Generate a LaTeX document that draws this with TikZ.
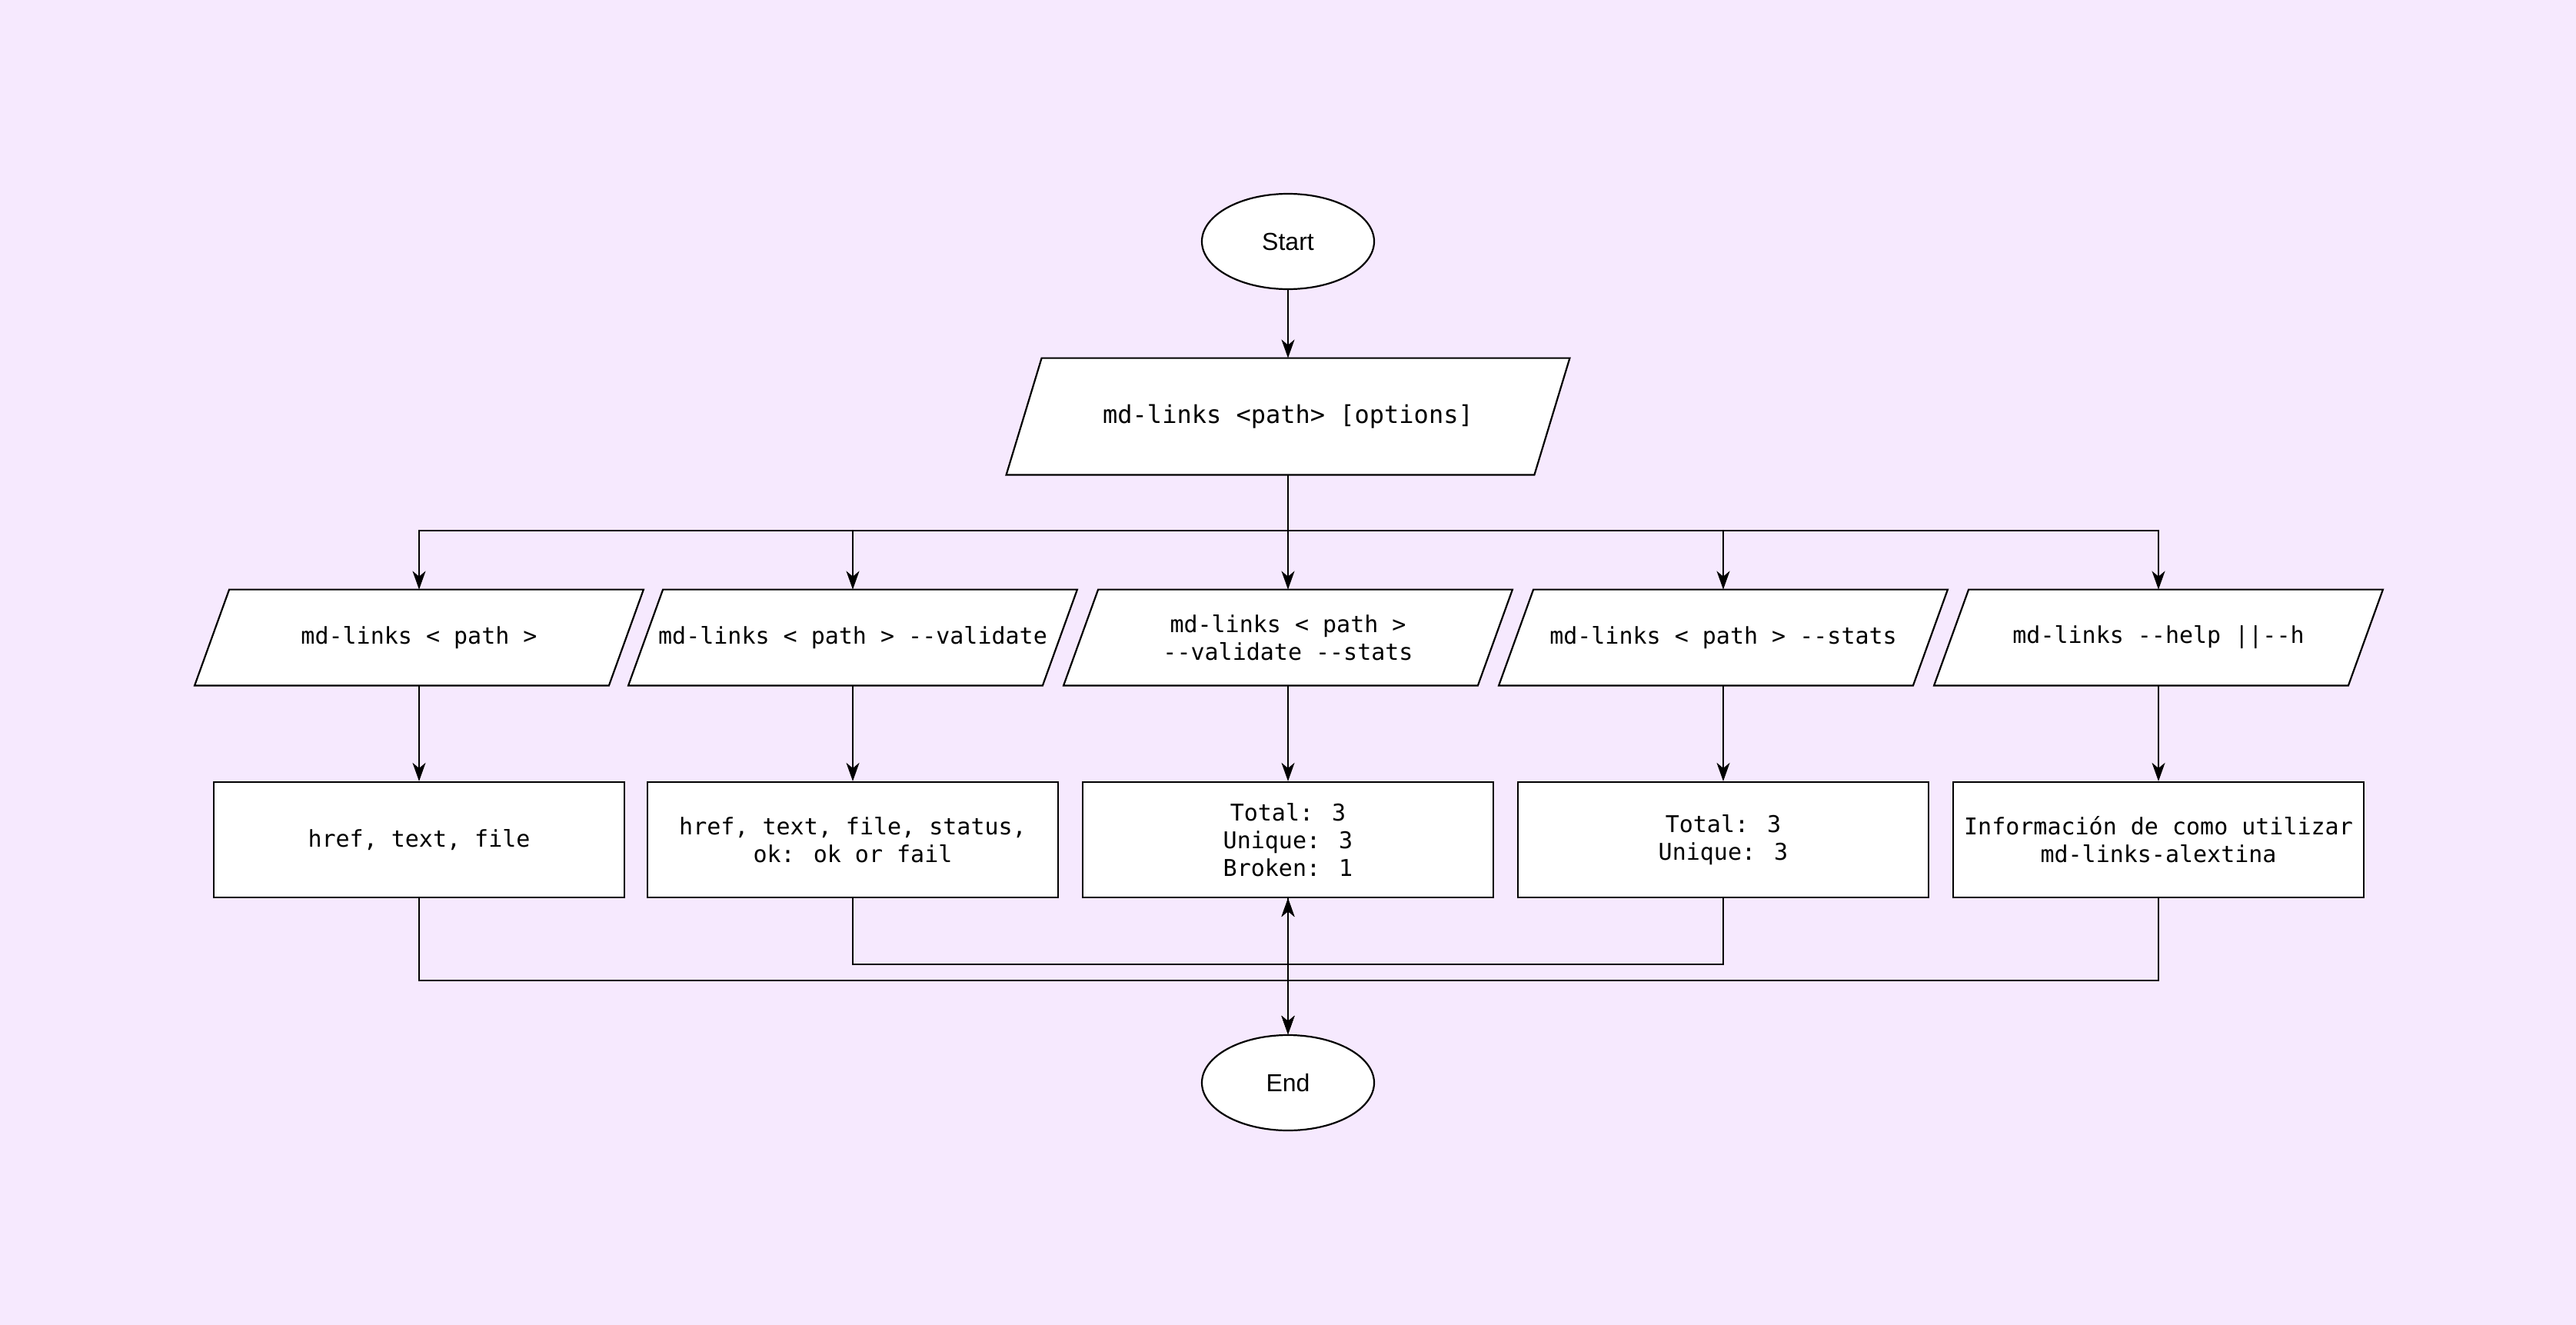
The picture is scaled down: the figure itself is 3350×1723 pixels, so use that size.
\documentclass[tikz,border=0pt]{standalone}
\usepackage{fontspec}
\setmainfont{Liberation Sans}
\newfontfamily\monof{DejaVu Sans Mono}
\usetikzlibrary{arrows.meta,backgrounds,shapes.geometric}
\definecolor{bgcol}{RGB}{246,233,254}
\tikzset{
  shapeline/.style={draw=black,line width=1.1pt,fill=white},
  term/.style={ellipse,shapeline,minimum width=112pt,minimum height=62pt,inner sep=0pt,font=\fontsize{16}{19}\selectfont},
  paranode/.style={rectangle,draw=none,minimum width=269pt,minimum height=62pt,inner sep=0pt,align=center,font=\monof\fontsize{15}{18}\selectfont},
  resbox/.style={rectangle,shapeline,minimum width=267pt,minimum height=75pt,inner sep=0pt,align=center,font=\monof\fontsize{15}{18}\selectfont},
  arr/.style={draw=black,line width=0.9pt,-{Stealth[length=12pt,width=8.5pt,inset=3.5pt]}},
}
\newcommand\paraoutline[2]{% node name, half slant
  \filldraw[shapeline] ([xshift=#2]#1.north west) -- ([xshift=#2]#1.north east) -- ([xshift=-#2]#1.south east) -- ([xshift=-#2]#1.south west) -- cycle;}
\begin{document}
\begin{tikzpicture}[x=0.5pt,y=-0.5pt]
\useasboundingbox (0,0) rectangle (3350,1723);
% nodes
\node[term] (start) at (1675,314) {Start};
\node[paranode,minimum width=343pt,minimum height=75.5pt,font=\monof\fontsize{16}{19}\selectfont] (in) at (1675,541.5) {md-links <path> [options]};
\node[paranode] (p1) at (545,829) {md-links < path >};
\node[paranode] (p2) at (1109,829) {md-links < path > -{}-validate};
\node[paranode] (p3) at (1675,829) {md-links < path >\\-{}-validate -{}-stats};
\node[paranode] (p4) at (2241,829) {md-links < path > -{}-stats};
\node[paranode] (p5) at (2807,829) {md-links -{}-help ||-{}-h};
\node[resbox] (r1) at (545,1092) {href, text, file};
\node[resbox] (r2) at (1109,1092) {href, text, file, status,\\ok: ok or fail};
\node[resbox] (r3) at (1675,1092) {Total: 3\\Unique: 3\\Broken: 1};
\node[resbox] (r4) at (2241,1092) {Total: 3\\Unique: 3};
\node[resbox] (r5) at (2807,1092) {Información de como utilizar\\md-links-alextina};
\node[term] (end) at (1675,1408) {End};
\coordinate (bus) at (1675,690);
\coordinate (busA) at (1675,1254);
\coordinate (busB) at (1675,1275);
% background and parallelograms
\begin{scope}[on background layer]
  \fill[bgcol] (0,0) rectangle (3350,1723);
  \paraoutline{in}{11.5pt}
  \foreach \n in {p1,p2,p3,p4,p5} {\paraoutline{\n}{11.25pt}}
\end{scope}
% connectors
\draw[arr] (start) -- (in);
\draw[arr] (in.south) -- (bus) -| (p1.north);
\draw[arr] (in.south) -- (bus) -| (p2.north);
\draw[arr] (in.south) -- (p3.north);
\draw[arr] (in.south) -- (bus) -| (p4.north);
\draw[arr] (in.south) -- (bus) -| (p5.north);
\foreach \i in {1,...,5} {\draw[arr] (p\i.south) -- (r\i.north);}
\draw[arr] (r2.south) |- (busA) -- (r3.south);
\draw[arr] (r4.south) |- (busA) -- (r3.south);
\draw[arr] (r3.south) -- (end.north);
\draw[arr] (r1.south) |- (busB) -- (end.north);
\draw[arr] (r5.south) |- (busB) -- (end.north);
\end{tikzpicture}
\end{document}
